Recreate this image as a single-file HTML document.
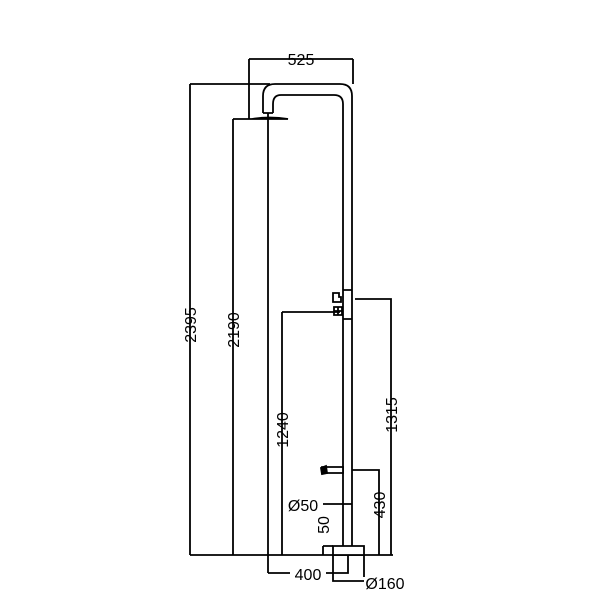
<!DOCTYPE html>
<html><head><meta charset="utf-8"><style>body{margin:0;background:#fff}svg{display:block}text{font-family:"Liberation Sans","DejaVu Sans",sans-serif;font-size:16px;fill:#000}</style></head><body>
<svg width="600" height="600" viewBox="0 0 600 600" xmlns="http://www.w3.org/2000/svg">
<g stroke="#000" stroke-width="1.8" fill="none">
<path d="M352 546 V96 Q352 84 340 84 H275 Q263 84 263 96 V113"/>
<path d="M343 546 V104 Q343 95 334 95 H281 Q273 95 273 104 V113"/>
<path d="M263 113 H273 M268 113 V119"/>
<path d="M252 119 Q270 116 288 119 Z" fill="#000"/>
<path d="M268 119 V573"/>
<path d="M249 59 H353 M249 59 V119 M353 59 V84"/>
<path d="M190 84 H270 M190 84 V555"/>
<path d="M233 119 H252 M233 119 V555"/>
<path d="M190 555 H393"/>
<path d="M282 312 H340 M282 312 V555"/>
<path d="M355 299 H391 V555"/>
<path d="M343 290 H352 M343 319 H352"/>
<path d="M333 293 H339 V297 H341 V302 H333 Z" fill="#fff"/>
<path d="M334 307 H342 V315 H334 Z M338 307 V315 M334 311 H342"/>
<path d="M322 467 H343 V473 H322 Z" fill="#fff"/>
<path d="M321 468 L326 466 L327 473 L322 474 Z" fill="#000"/>
<path d="M352 470 H379 V555"/>
<path d="M323 504 H352"/>
<path d="M333 546 H364 V555 H333 Z" fill="#fff"/>
<path d="M323 546 H333 M323 546 V555"/>
<path d="M333 555 V581 H364 M364 555 V577"/>
<path d="M268 573 H290 M326 573 H348 V555"/>
</g>
<text x="301" y="65" text-anchor="middle">525</text>
<text transform="translate(196,325) rotate(-90)" text-anchor="middle">2395</text>
<text transform="translate(239,330) rotate(-90)" text-anchor="middle">2190</text>
<text transform="translate(288,430) rotate(-90)" text-anchor="middle">1240</text>
<text transform="translate(397,415) rotate(-90)" text-anchor="middle">1315</text>
<text transform="translate(385,505) rotate(-90)" text-anchor="middle">430</text>
<text transform="translate(329,525) rotate(-90)" text-anchor="middle">50</text>
<text x="303" y="511" text-anchor="middle">Ø50</text>
<text x="308" y="580" text-anchor="middle">400</text>
<text x="385" y="589" text-anchor="middle">Ø160</text>
</svg>
</body></html>
